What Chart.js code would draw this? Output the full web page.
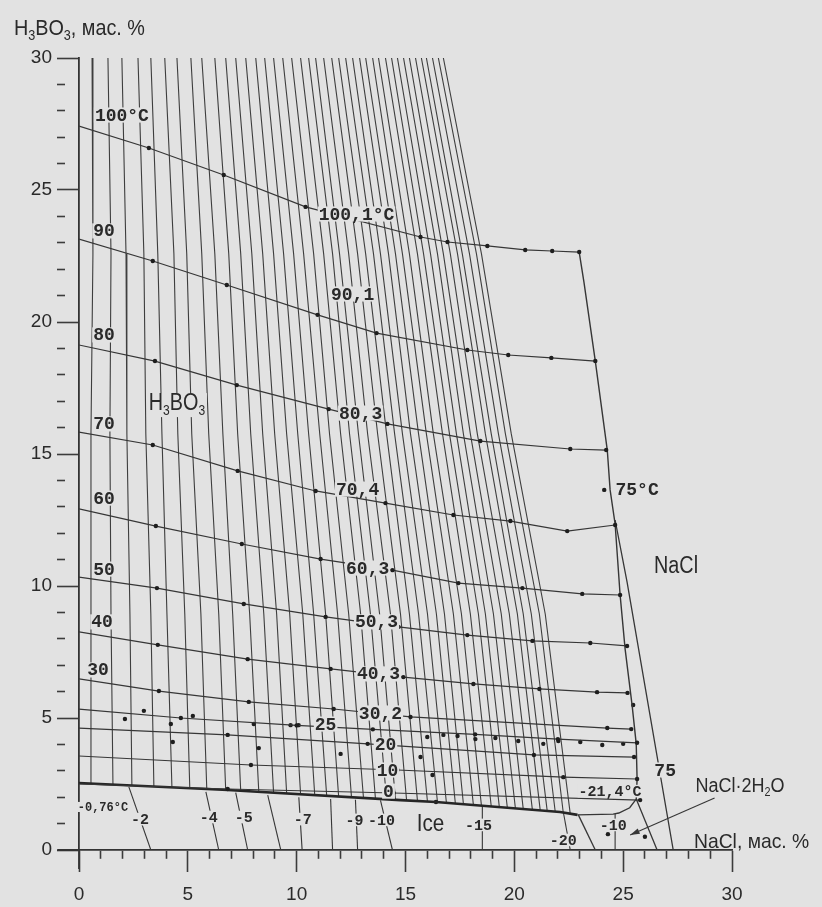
<!DOCTYPE html>
<html>
<head>
<meta charset="utf-8">
<script src="https://cdn.jsdelivr.net/npm/chart.js@4/dist/chart.umd.min.js"></script>
<style>
html,body{margin:0;padding:0;background:#e2e2e2;}
canvas{display:block;}
</style>
</head>
<body>
<canvas id="c" width="822" height="907"></canvas>
<script>
// ---------- data (NaCl mass %, H3BO3 mass %) ----------
const xTickLabels = ['0','5','10','15','20','25','30'];
const yTickLabels = ['0','5','10','15','20','25','30'];

// hatching of the H3BO3 field: x at levels y = 30, 22.58, 15.76, 8.94 and at bottom end
const hatchLevels = [30, 22.58, 15.76, 8.94];
const hatchX30 = [0.60,1.33,1.97,2.71,3.30,3.94,4.50,5.14,5.64,6.24,6.74,7.20,7.66,8.12,8.53,8.94,9.36,9.77,10.18,10.55,10.87,11.24,11.61,11.93,12.25,12.57,12.89,13.17,13.49,13.76,14.08,14.36,14.63,14.91,15.18,15.46,15.73,15.96,16.24,16.51,16.74];
const hatchX22 = [0.64,1.47,2.16,2.98,3.62,4.36,4.95,5.64,6.24,6.88,7.43,7.94,8.44,8.94,9.40,9.86,10.32,10.78,11.24,11.65,11.97,12.39,12.80,13.17,13.53,13.85,14.22,14.54,14.86,15.18,15.55,15.83,16.15,16.47,16.74,17.06,17.39,17.61,17.94,18.26,18.49];
const hatchX16 = [0.55,1.42,2.20,3.07,3.81,4.54,5.18,5.96,6.61,7.29,7.89,8.44,8.99,9.54,10.05,10.55,11.06,11.51,12.02,12.43,12.84,13.26,13.72,14.13,14.50,14.86,15.23,15.60,15.96,16.28,16.70,17.02,17.34,17.66,17.98,18.30,18.67,18.94,19.27,19.59,19.86];
const hatchX9  = [0.55,1.47,2.34,3.30,4.04,4.86,5.60,6.42,7.06,7.84,8.49,9.08,9.68,10.28,10.78,11.33,11.88,12.39,12.94,13.39,13.81,14.31,14.77,15.18,15.60,16.01,16.42,16.79,17.20,17.57,17.98,18.35,18.67,19.04,19.40,19.77,20.14,20.41,20.78,21.15,21.42];
const hatchXBot= [0.55,1.56,2.43,3.44,4.27,5.09,5.87,6.74,7.43,8.26,8.94,9.54,10.18,10.83,11.38,11.93,12.52,13.07,13.62,14.13,14.54,15.05,15.55,16.01,16.47,16.88,17.29,17.66,18.12,18.49,18.94,19.31,19.68,20.05,20.41,20.83,21.19,21.51,21.88,22.25,22.57];
const hatchYBot= [2.52,2.46,2.42,2.39,2.35,2.33,2.31,2.27,2.23,2.20,2.16,2.14,2.12,2.08,2.05,2.01,1.99,1.97,1.93,1.91,1.89,1.88,1.86,1.82,1.80,1.78,1.76,1.74,1.70,1.67,1.65,1.63,1.59,1.57,1.55,1.52,1.50,1.48,1.44,1.40,1.36];

// isotherms of H3BO3 solubility [NaCl, H3BO3]
const iso100 = [[0,27.42],[3.21,26.59],[6.65,25.57],[10.41,24.36],[15.69,23.22],[16.93,23.03],[18.76,22.88],[20.5,22.73],[21.74,22.69],[22.98,22.65]];
const iso90  = [[0,23.14],[3.39,22.31],[6.79,21.4],[10.96,20.27],[13.67,19.58],[17.84,18.94],[19.72,18.75],[21.7,18.64],[23.72,18.52]];
const iso80  = [[0,19.13],[3.49,18.52],[7.25,17.61],[11.47,16.7],[14.17,16.14],[18.44,15.49],[22.57,15.19],[24.22,15.15]];
const iso70  = [[0,15.83],[3.39,15.34],[7.29,14.36],[10.87,13.6],[14.08,13.14],[17.2,12.69],[19.82,12.46],[22.43,12.08],[24.63,12.31]];
const iso60  = [[0,12.92],[3.53,12.27],[7.48,11.59],[11.1,11.02],[14.4,10.6],[17.43,10.11],[20.37,9.92],[23.12,9.7],[24.86,9.66]];
const iso50  = [[0,10.34],[3.58,9.92],[7.57,9.32],[11.33,8.83],[14.68,8.45],[17.84,8.14],[20.83,7.92],[23.49,7.84],[25.18,7.73]];
const iso40  = [[0,8.26],[3.62,7.77],[7.75,7.23],[11.56,6.86],[14.9,6.55],[18.12,6.29],[21.15,6.1],[23.8,5.98],[25.2,5.95]];
const iso30  = [[0,6.48],[3.67,6.02],[7.8,5.61],[11.7,5.34],[15.23,5.04],[24.27,4.62],[25.37,4.58]];
const iso25  = [[0,5.34],[4.68,5.0],[10.0,4.72],[13.5,4.57],[18.2,4.38],[22.0,4.2],[25.64,4.06]];
const iso20  = [[0,4.62],[6.83,4.36],[13.26,4.02],[20.9,3.6],[25.5,3.52]];
const iso10  = [[0,3.56],[7.9,3.22],[14.63,3.03],[22.25,2.76],[25.64,2.69]];
const iso0   = [[0,2.5],[6.83,2.31],[14.45,2.16],[25.78,1.89]];
// ice crystallization line (bold) from -0.76 °C to the eutectic -21.4 °C
const iceLine = [[0,2.54],[6.83,2.27],[14.77,1.89],[16.4,1.82],[22.1,1.44],[22.9,1.33]];
// NaCl field boundary
const naclLine = [[22.98,22.65],[23.2,21.5],[23.72,18.52],[24.27,15.15],[24.4,13.64],[24.63,12.35],[24.86,9.66],[25.09,7.61],[25.41,5.49],[25.6,4.02],[25.64,2.69],[25.6,1.93],[25.3,1.6],[24.8,1.4],[24.54,1.36],[22.9,1.33]];
const naclTail = [[25.6,1.93],[26.56,0]];
const line75 = [[24.63,12.5],[25.18,10.15],[27.3,0]];
const eutecticTail = [[22.94,1.33],[23.72,0]];
// ice isotherms below the ice line
const iceIso = [
  [[2.29,2.39],[3.3,0]], [[5.83,2.2],[6.42,0]], [[7.2,2.17],[7.75,0]], [[8.67,2.08],[9.27,0]],
  [[10.1,2.0],[10.25,0]], [[11.56,1.93],[11.65,0]], [[12.7,1.9],[12.8,0]], [[13.85,1.88],[14.4,0]],
  [[18.53,1.7],[18.53,0]], [[22.25,1.44],[22.57,0]], [[24.63,1.36],[24.63,0]]
];
// extra experimental points
const expPoints = [[2.11,4.96],[4.22,4.77],[4.31,4.09],[8.03,4.77],[8.26,3.86],[9.72,4.73],[10.09,4.73],[12.02,3.64],[2.98,5.27],[5.23,5.08],
  [16.0,4.28],[16.74,4.36],[17.39,4.32],[18.21,4.2],[19.13,4.24],[20.18,4.13],[21.33,4.02],[22.02,4.13],[23.03,4.09],[24.04,3.98],[25.0,4.02],
  [15.69,3.52],[16.24,2.84],[16.4,1.82],[25.46,5.49],[24.13,13.64],[24.3,0.6],[26.0,0.5]];
const arrowLine = [[29.2,1.97],[25.32,0.57]];

// ---------- annotations ----------
const isoLabels = [
  ['100°C',1.97,27.84],['100,1°C',12.75,24.09],['90',1.15,23.45],['90,1',12.57,21.06],
  ['80',1.15,19.51],['80,3',12.94,16.55],['70',1.15,16.14],['70,4',12.8,13.67],
  ['60',1.15,13.33],['60,3',13.26,10.68],['50',1.15,10.64],['50,3',13.67,8.64],
  ['40',1.06,8.64],['40,3',13.76,6.67],['30',0.87,6.82],['30,2',13.85,5.19],
  ['25',11.33,4.77],['20',14.08,3.98],['10',14.17,3.03],['0',14.22,2.23],
  ['75°C',25.64,13.64],['75',26.93,3.03]
];
const smallLabels = [
  ['-0,76°C',1.1,1.63],['-2',2.8,1.17],['-4',5.96,1.25],['-5',7.57,1.25],['-7',10.28,1.17],
  ['-9',12.66,1.14],['-10',13.9,1.14],['-15',18.35,0.95],['-20',22.25,0.38],['-10',24.54,0.95],['-21,4°C',24.4,2.23]
];

// ---------- styles ----------
const LINE = '#363636', AX = '#333', TXT = '#2a2a2a', BG = '#e2e2e2';
const SANS = '"Liberation Sans", Arial, sans-serif';
const MONO = '"Liberation Mono", "Courier New", monospace';

function pts(a){ return a.map(p => ({x:p[0], y:p[1]})); }
function lineDs(a, o){ return Object.assign({data:pts(a), showLine:true, borderColor:LINE, borderWidth:1.2, pointRadius:0, fill:false}, o||{}); }

const datasets = [];
[iso100,iso90,iso80,iso70,iso60,iso50,iso40,iso30,iso25,iso20,iso10,iso0].forEach(a => {
  datasets.push(lineDs(a, {pointRadius: c => c.dataIndex === 0 ? 0 : 2.2, pointBackgroundColor:'#1e1e1e', pointBorderWidth:0}));
});
datasets.push(lineDs(iceLine, {borderWidth:2.6, borderColor:'#262626'}));
datasets.push(lineDs(naclLine, {borderWidth:1.4}));
datasets.push(lineDs(naclTail, {borderWidth:1.3}));
datasets.push(lineDs(line75, {borderWidth:1.3}));
datasets.push(lineDs(eutecticTail, {borderWidth:1.3}));
iceIso.forEach(a => datasets.push(lineDs(a, {borderWidth:1.1})));
datasets.push({data:pts(expPoints), showLine:false, pointRadius:2.2, pointBackgroundColor:'#1e1e1e', pointBorderWidth:0});
datasets.push(lineDs(arrowLine, {borderWidth:1.1, clip:false}));
for (let i = 0; i < hatchX30.length; i++) {
  datasets.push(lineDs([[hatchX30[i],hatchLevels[0]],[hatchX22[i],hatchLevels[1]],[hatchX16[i],hatchLevels[2]],[hatchX9[i],hatchLevels[3]],[hatchXBot[i],hatchYBot[i]]], {borderWidth:1.1, borderColor:'#3e3e3e'}));
}

function drawRich(ctx, parts, cx, cy, size, hscale, align){
  ctx.save();
  ctx.translate(cx, cy);
  ctx.scale(hscale, 1);
  let w = 0;
  parts.forEach(p => { ctx.font = (p[1] ? Math.round(size*0.62) : size) + 'px ' + SANS; w += ctx.measureText(p[0]).width; });
  let x = align === 'left' ? 0 : -w/2;
  ctx.textBaseline = 'middle'; ctx.textAlign = 'left'; ctx.fillStyle = TXT;
  parts.forEach(p => {
    ctx.font = (p[1] ? Math.round(size*0.62) : size) + 'px ' + SANS;
    ctx.fillText(p[0], x, p[1] ? size*0.32 : 0);
    x += ctx.measureText(p[0]).width;
  });
  ctx.restore();
}

const annot = {
  id:'annot',
  afterDatasetsDraw(chart){
    const {ctx, scales:{x, y}} = chart;
    ctx.save();
    // axis extensions beyond the origin
    ctx.strokeStyle = AX; ctx.lineWidth = 1.8;
    ctx.beginPath();
    ctx.moveTo(x.getPixelForValue(-1.0), y.getPixelForValue(0));
    ctx.lineTo(x.getPixelForValue(0), y.getPixelForValue(0));
    ctx.moveTo(x.getPixelForValue(0), y.getPixelForValue(0));
    ctx.lineTo(x.getPixelForValue(0), y.getPixelForValue(-0.72));
    ctx.stroke();
    // arrow head
    const p0 = {x:x.getPixelForValue(arrowLine[0][0]), y:y.getPixelForValue(arrowLine[0][1])};
    const p1 = {x:x.getPixelForValue(arrowLine[1][0]), y:y.getPixelForValue(arrowLine[1][1])};
    const ang = Math.atan2(p1.y-p0.y, p1.x-p0.x);
    ctx.fillStyle = LINE;
    ctx.beginPath();
    ctx.moveTo(p1.x, p1.y);
    ctx.lineTo(p1.x - 10*Math.cos(ang-0.3), p1.y - 10*Math.sin(ang-0.3));
    ctx.lineTo(p1.x - 10*Math.cos(ang+0.3), p1.y - 10*Math.sin(ang+0.3));
    ctx.closePath(); ctx.fill();

    function monoLabel(t, vx, vy, size){
      const px = x.getPixelForValue(vx), py = y.getPixelForValue(vy);
      ctx.font = 'bold ' + size + 'px ' + MONO;
      const w = ctx.measureText(t).width;
      ctx.fillStyle = BG;
      ctx.fillRect(px - w/2 - 1, py - size*0.42, w + 2, size*0.84);
      ctx.fillStyle = TXT; ctx.textAlign = 'center'; ctx.textBaseline = 'middle';
      ctx.fillText(t, px, py + 1);
    }
    isoLabels.forEach(l => monoLabel(l[0], l[1], l[2], 18));
    smallLabels.forEach(l => monoLabel(l[0], l[1], l[2], l[0] === '-0,76°C' ? 12 : 15));

    // sans labels
    const S = (vx, vy) => [x.getPixelForValue(vx), y.getPixelForValue(vy)];
    let p;
    p = S(4.5, 16.89);  ctx.fillStyle = BG; ctx.fillRect(p[0]-30, p[1]-11, 60, 24);
    drawRich(ctx, [['H',0],['3',1],['BO',0],['3',1]], p[0], p[1], 23, 0.86, 'center');
    p = S(27.43, 10.72); drawRich(ctx, [['NaCl',0]], p[0], p[1], 23, 0.86, 'center');
    p = S(16.15, 0.98);  ctx.fillStyle = BG; ctx.fillRect(p[0]-16, p[1]-11, 32, 22);
    drawRich(ctx, [['Ice',0]], p[0], p[1], 24, 0.86, 'center');
    p = S(30.37, 2.42);  drawRich(ctx, [['NaCl·2H',0],['2',1],['O',0]], p[0], p[1], 20, 0.9, 'center');
    p = S(30.9, 0.3);    drawRich(ctx, [['NaCl, мас. %',0]], p[0], p[1], 21, 0.92, 'center');
    p = S(-2.99, 31.1);  drawRich(ctx, [['H',0],['3',1],['BO',0],['3',1],[', мас. %',0]], p[0], p[1], 22, 0.9, 'left');
    ctx.restore();
  }
};

new Chart(document.getElementById('c'), {
  type:'scatter',
  data:{datasets},
  options:{
    responsive:false, animation:false, devicePixelRatio:1,
    layout:{padding:{top:58, right:90, bottom:0, left:0}},
    plugins:{legend:{display:false}, tooltip:{enabled:false}},
    scales:{
      x:{type:'linear', position:'bottom', min:0, max:30,
        afterFit: s => { s.height = 57; },
        ticks:{stepSize:1, autoSkip:false, maxRotation:0, padding:11, color:TXT, font:{family:SANS, size:19},
          callback: v => (v % 5 === 0 ? xTickLabels[v/5] : '')},
        grid:{drawOnChartArea:false, drawTicks:true, tickLength:22, tickColor:'#3c3c3c', tickWidth:1.6,
          tickBorderDash: c => (c.tick && c.tick.value % 5 === 0) ? [] : [8, 60]},
        border:{color:AX, width:1.8}},
      y:{type:'linear', position:'left', min:0, max:30,
        afterFit: s => { s.width = 79; },
        ticks:{stepSize:1, autoSkip:false, padding:5, color:TXT, font:{family:SANS, size:19},
          callback: v => (v % 5 === 0 ? yTickLabels[v/5] : '')},
        grid:{drawOnChartArea:false, drawTicks:true, tickLength:22, tickColor:'#3c3c3c', tickWidth:1.6,
          tickBorderDash: c => (c.tick && c.tick.value % 5 === 0) ? [] : [8, 60]},
        border:{color:AX, width:1.8}}
    }
  },
  plugins:[annot]
});
</script>
</body>
</html>
